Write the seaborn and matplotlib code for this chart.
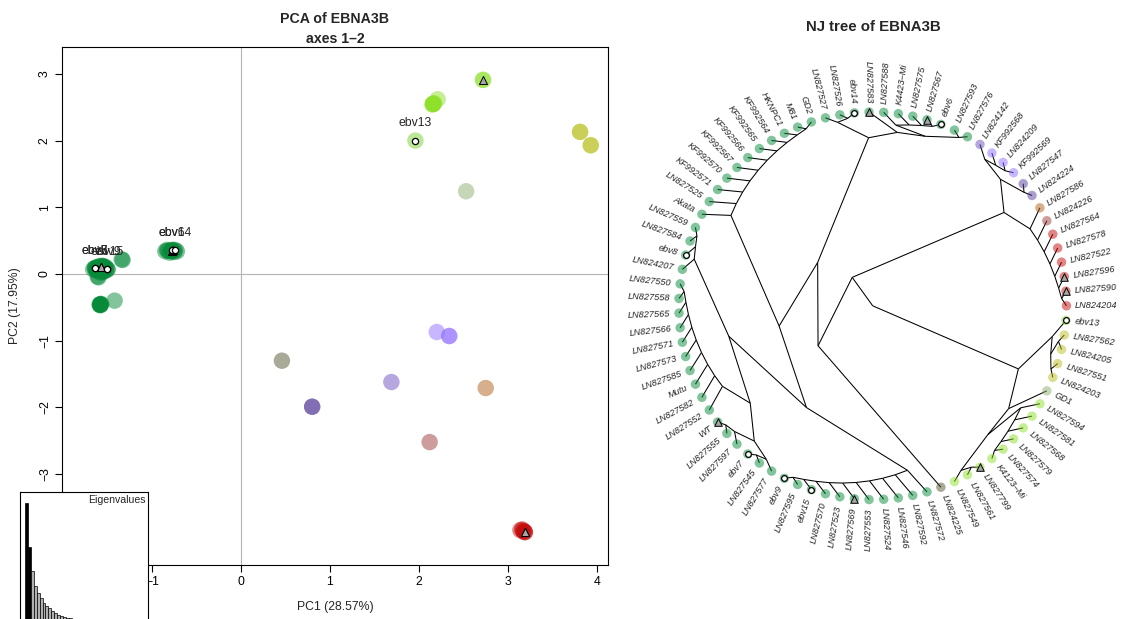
import numpy as np
import pandas as pd
import matplotlib
matplotlib.use("Agg")
import matplotlib.pyplot as plt
import seaborn as sns
from matplotlib.collections import LineCollection

sns.set_theme(style="white")
plt.rcParams['font.family'] = ['Liberation Sans', 'DejaVu Sans']

# ---------------- data ----------------
TIPS = ["LN824204", "LN827590", "LN827596", "LN827522", "LN827578", "LN827564", "LN824226",
        "LN827586", "LN824224", "LN827547", "KF992569", "LN824209", "KF992568", "LN824142",
        "LN827576", "LN827593", "ebv6", "LN827567", "LN827575", "K4423\u2013Mi", "LN827588",
        "LN827583", "ebv14", "LN827526", "LN827527", "GD2", "M81", "HKNPC1", "KF992564",
        "KF992565", "KF992566", "KF992567", "KF992570", "KF992571", "LN827525", "Akata",
        "LN827559", "LN827584", "ebv8", "LN824207", "LN827550", "LN827558", "LN827565",
        "LN827566", "LN827571", "LN827573", "LN827585", "Mutu", "LN827582", "LN827552",
        "WT", "LN827555", "LN827597", "ebv7", "LN827545", "LN827577", "ebv9", "LN827595",
        "ebv15", "LN827570", "LN827523", "LN827569", "LN827553", "LN827524", "LN827546",
        "LN827592", "LN827572", "LN824225", "LN827549", "LN827561", "LN827799",
        "K4123\u2013Mi", "LN827574", "LN827579", "LN827568", "LN827581", "LN827594", "GD1",
        "LN824203", "LN827551", "LN824205", "LN827562", "ebv13"]

GROUP = (["red"] * 6 + ["rosy", "tan", "pgray", "pgray", "lpurple", "lpurple", "lpurple", "mpurple"]
         + ["green"] * 53 + ["olive"] + ["lgreen"] * 9 + ["gd1"] + ["yellow"] * 4 + ["ebv13"])

TRIANGLES = ["LN827590", "LN827596", "LN827567", "LN827583", "WT", "LN827569", "LN827799"]
EBV = ["ebv6", "ebv7", "ebv8", "ebv9", "ebv13", "ebv14", "ebv15"]

PC1 = [3.16, 3.19, 3.19, 3.14, 3.18, 3.17, 2.12, 2.75, 0.80, 0.80, 2.20, 2.34, 2.34, 1.69,
       -0.82, -0.78, -0.78, -0.78, -0.75, -0.85, -0.80, -0.76, -0.74, -0.72, -0.83,
       -1.33, -1.34, -1.58, -1.58, -1.57, -1.58, -1.59, -1.58, -1.58, -1.42, -1.62,
       -1.60, -1.55, -1.64, -1.58, -1.62, -1.60, -1.56, -1.53, -1.66, -1.61, -1.57, -1.54, -1.59, -1.63,
       -1.57, -1.58, -1.55, -1.64, -1.52, -1.60, -1.50, -1.56, -1.50, -1.54, -1.60, -1.57, -1.58,
       -1.52, -1.62, -1.56, -1.59,
       0.46, 2.16, 2.16, 2.72, 2.72, 2.16, 2.15, 2.17, 2.21, 2.16, 2.53, 3.81, 3.81, 3.93, 3.93, 1.96]
PC2 = [-3.83, -3.87, -3.87, -3.84, -3.86, -3.85, -2.52, -1.71, -1.99, -1.99, -0.87, -0.93, -0.93, -1.62,
       0.35, 0.34, 0.36, 0.35, 0.33, 0.34, 0.32, 0.36, 0.36, 0.34, 0.36,
       0.21, 0.22, -0.46, -0.46, -0.45, -0.47, -0.46, -0.46, -0.45, -0.40, 0.05,
       0.05, 0.12, 0.09, 0.02, 0.08, 0.10, 0.06, 0.11, 0.07, -0.04, 0.09, 0.05, 0.12, 0.06,
       0.11, 0.08, 0.03, 0.09, 0.10, 0.07, 0.07, 0.04, 0.07, 0.09, -0.05, 0.11, 0.08,
       0.05, 0.10, 0.12, 0.06,
       -1.30, 2.55, 2.55, 2.91, 2.91, 2.55, 2.54, 2.56, 2.62, 2.55, 1.24, 2.13, 2.13, 1.93, 1.93, 2.00]

EIGEN = [28.57, 17.95, 12.3, 8.7, 7.0, 5.8, 4.6, 3.9, 3.4, 2.7, 2.2, 1.8, 1.5, 1.25, 1.05, 0.9,
         0.78, 0.68, 0.6, 0.53, 0.47, 0.42, 0.37, 0.33, 0.29, 0.26, 0.23, 0.2, 0.17, 0.15,
         0.13, 0.11, 0.09, 0.07, 0.06, 0.05, 0.04, 0.03]

PALETTE = {"green": "#078a3a", "red": "#c40c0c", "rosy": "#9c3c3c", "tan": "#b0601a",
           "pgray": "#5a3f9a", "lpurple": "#9270ff", "mpurple": "#7050c0", "lgreen": "#8ee02a",
           "yellow": "#b8c020", "gd1": "#8fb070", "olive": "#545430", "ebv13": "#7ad030"}

# tree topology (NJ tree, Newick pieces, tips in drawing order)
RED_BROWN = "(((((((LN824204,LN827590),LN827596),LN827522),LN827578),LN827564),LN824226),LN827586)"
PURPLE = "((LN824224,LN827547),(((KF992569,LN824209),KF992568),LN824142))"
TOP = ("((((LN827576,LN827593),((((ebv6,LN827567),LN827575),K4423\u2013Mi),LN827588)),LN827583),"
       "((ebv14,LN827526),LN827527))")
LADDER11 = ("((((((((((GD2,M81),HKNPC1),KF992564),KF992565),KF992566),KF992567),KF992570),"
            "KF992571),LN827525),Akata)")
GROUP4 = "(((LN827559,LN827584),ebv8),LN824207)"
LADDER10 = ("(((((((((LN827550,LN827558),LN827565),LN827566),LN827571),LN827573),LN827585),"
            "Mutu),LN827582),LN827552)")
WT6 = "(((WT,LN827555),LN827597),((ebv7,LN827545),LN827577))"
COMB11 = ("((((((((((ebv9,LN827595),ebv15),LN827570),LN827523),LN827569),LN827553),"
          "LN827524),LN827546),LN827592),LN827572)")
CLADE_B = ("((((LN827549,(LN827561,LN827799)),(((((K4123\u2013Mi,LN827574),LN827579),LN827568),"
           "LN827581),LN827594)),GD1),(((LN824203,LN827551),(LN824205,LN827562)),ebv13))")

N20 = "({g4},({l10},{wt}))".format(g4=GROUP4, l10=LADDER10, wt=WT6)
N31 = "({n20},{c11})".format(n20=N20, c11=COMB11)
N42 = "({l11},{n31})".format(l11=LADDER11, n31=N31)
A2 = "(({top},{n42}),LN824225)".format(top=TOP, n42=N42)
A1 = "({rb},{pu})".format(rb=RED_BROWN, pu=PURPLE)
NEWICK = "(({a1},{a2}),{b});".format(a1=A1, a2=A2, b=CLADE_B)


# ---------------- helpers ----------------
def parse_newick(s):
    s = s.strip().rstrip(';')
    pos = 0

    def node():
        nonlocal pos
        if s[pos] == '(':
            pos += 1
            kids = [node()]
            while s[pos] == ',':
                pos += 1
                kids.append(node())
            pos += 1  # ')'
            return kids
        start = pos
        while pos < len(s) and s[pos] not in ',()':
            pos += 1
        return s[start:pos]
    return node()


tree = parse_newick(NEWICK)
N = len(TIPS)
tip_idx = {t: i for i, t in enumerate(TIPS)}
segments = []


def layout(n):
    # radial layout: tips evenly on unit circle, nodes at 1 - ntips/N, angle = mean of children
    if isinstance(n, str):
        ang = tip_idx[n] * 2 * np.pi / N
        return 1, ang, np.cos(ang), np.sin(ang)
    res = [layout(c) for c in n]
    k = sum(r[0] for r in res)
    ang = np.mean([r[1] for r in res])
    rad = 1 - k / N
    x, y = rad * np.cos(ang), rad * np.sin(ang)
    for r in res:
        segments.append([(x, y), (r[2], r[3])])
    return k, ang, x, y


layout(tree)

df = pd.DataFrame({"tip": TIPS, "group": GROUP, "pc1": PC1, "pc2": PC2})
df["ang"] = np.arange(N) * 2 * np.pi / N
df["tx"] = np.cos(df["ang"])
df["ty"] = np.sin(df["ang"])

# ---------------- figure ----------------
W, H = 1130, 619
fig = plt.figure(figsize=(W / 100, H / 100), dpi=100)
fig.patch.set_facecolor("white")


def px_axes(l, t, r, b):
    return fig.add_axes([l / W, 1 - b / H, (r - l) / W, (b - t) / H])


# ----- PCA -----
ax = px_axes(62, 47, 608, 565)
ax.axhline(0, color="#b4b4b4", lw=0.8, zorder=0)
ax.axvline(0, color="#b4b4b4", lw=0.8, zorder=0)
sns.scatterplot(data=df, x="pc1", y="pc2", hue="group", palette=PALETTE, s=140, alpha=0.5,
                linewidth=0, legend=False, ax=ax, zorder=2)
tri = df[df.tip.isin(TRIANGLES)]
ax.scatter(tri.pc1, tri.pc2, marker="^", s=34, facecolor="#a6a6a6", edgecolor="black",
           linewidth=0.7, zorder=3)
eb = df[df.tip.isin(EBV)]
ax.scatter(eb.pc1, eb.pc2, marker="o", s=20, facecolor="white", edgecolor="black",
           linewidth=0.9, zorder=4)
for _, r in eb.iterrows():
    ax.annotate(r.tip, (r.pc1, r.pc2), xytext=(0, 8), textcoords="offset points",
                ha="center", va="bottom", fontsize=8.8, zorder=5)
ax.set_xlim(-2.011, 4.124)
ax.set_ylim(-4.363, 3.403)
ax.set_xticks([-2, -1, 0, 1, 2, 3, 4])
ax.set_yticks([-4, -3, -2, -1, 0, 1, 2, 3])
ax.tick_params(direction="out", length=5, width=0.8, labelsize=8.8, colors="black",
               left=True, bottom=True, pad=3)
for lab in ax.get_yticklabels():
    lab.set_rotation(90)
    lab.set_va("center")
for sp in ax.spines.values():
    sp.set_color("black")
    sp.set_linewidth(0.8)
ax.set_xlabel("")
ax.set_ylabel("")
fig.text(335 / W, 1 - 607 / H, "PC1 (28.57%)", ha="center", va="center", fontsize=8.8)
fig.text(15 / W, 1 - 306 / H, "PC2 (17.95%)", ha="center", va="center", fontsize=8.8, rotation=90)
fig.text(335 / W, 1 - 19 / H, "PCA of EBNA3B", ha="center", va="center", fontsize=10.2,
         fontweight="bold")
fig.text(335 / W, 1 - 39 / H, "axes 1\u20132", ha="center", va="center", fontsize=10.2,
         fontweight="bold")

# ----- eigenvalue inset -----
axe = px_axes(20, 492, 148, 622)
axe.set_facecolor("white")
eig = pd.DataFrame({"axis": np.arange(len(EIGEN)), "value": EIGEN})
bar_cols = ["black" if i < 2 else "#b0b0b0" for i in range(len(EIGEN))]
sns.barplot(data=eig, x="axis", y="value", hue="axis", palette=bar_cols, width=1.0,
            edgecolor="black", linewidth=0.5, legend=False, ax=axe, zorder=5)
axe.set_xlim(-2.2, 41.5)
axe.set_ylim(0, 31.3)
axe.set_xticks([])
axe.set_yticks([])
axe.set_xlabel("")
axe.set_ylabel("")
for sp in axe.spines.values():
    sp.set_visible(True)
    sp.set_color("black")
    sp.set_linewidth(0.8)
axe.text(0.985, 0.975, "Eigenvalues", transform=axe.transAxes, ha="right", va="top", fontsize=7.6)
axe.set_zorder(10)

# ----- NJ tree -----
axt = px_axes(615, 40, 1130, 580)
axt.set_xlim(-1.3297, 1.3277)
axt.set_ylim(-1.4149, 1.3715)
axt.axis("off")
axt.add_collection(LineCollection(segments, colors="black", linewidths=0.75, zorder=1))
sns.scatterplot(data=df, x="tx", y="ty", hue="group", palette=PALETTE, s=46, alpha=0.5,
                linewidth=0, legend=False, ax=axt, zorder=2)
ttri = df[df.tip.isin(TRIANGLES)]
axt.scatter(ttri.tx, ttri.ty, marker="^", s=30, facecolor="#a6a6a6", edgecolor="black",
            linewidth=0.7, zorder=3)
teb = df[df.tip.isin(EBV)]
axt.scatter(teb.tx, teb.ty, marker="o", s=17, facecolor="white", edgecolor="black",
            linewidth=0.9, zorder=4)
for _, r in df.iterrows():
    deg = np.degrees(r.ang)
    if 90 < deg < 270:
        rot, ha = deg + 180, "right"
    else:
        rot, ha = deg, "left"
    axt.text(1.045 * np.cos(r.ang), 1.045 * np.sin(r.ang), r.tip, rotation=rot, ha=ha,
             va="center", rotation_mode="anchor", fontsize=6.6, fontstyle="italic", clip_on=False)
axt.set_xlabel("")
axt.set_ylabel("")
fig.text(873 / W, 1 - 27 / H, "NJ tree of EBNA3B", ha="center", va="center", fontsize=10.8,
         fontweight="bold")

fig.savefig("out.png", dpi=100, facecolor="white")
